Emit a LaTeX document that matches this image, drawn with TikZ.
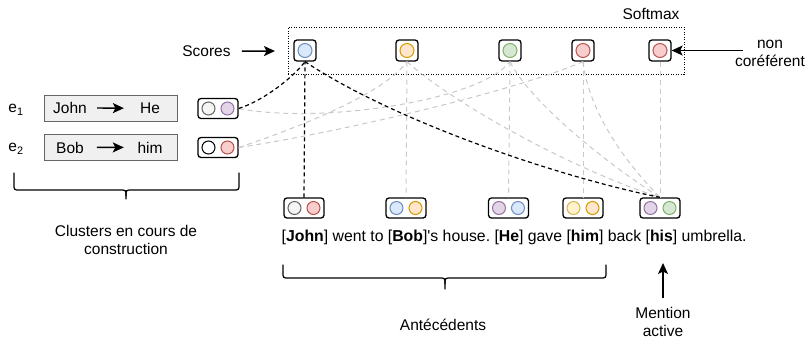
\documentclass[tikz,border=0pt]{standalone}
\usepackage{fontspec}
\setmainfont{Liberation Sans}
\frenchspacing
\usetikzlibrary{arrows.meta}
\definecolor{bluef}{HTML}{DAE8FC}\definecolor{blued}{HTML}{6C8EBF}
\definecolor{orangef}{HTML}{FFE6CC}\definecolor{oranged}{HTML}{D79B00}
\definecolor{greenf}{HTML}{D5E8D4}\definecolor{greend}{HTML}{82B366}
\definecolor{redf}{HTML}{F8CECC}\definecolor{redd}{HTML}{B85450}
\definecolor{purplef}{HTML}{E1D5E7}\definecolor{purpled}{HTML}{9673A6}
\definecolor{yellowf}{HTML}{FFF2CC}\definecolor{yellowd}{HTML}{D6B656}
\definecolor{grayf}{HTML}{F5F5F5}\definecolor{grayd}{HTML}{666666}
\definecolor{whitef}{HTML}{FFFFFF}\definecolor{whited}{HTML}{000000}
\definecolor{boxf}{HTML}{F0F0F0}
\definecolor{lightln}{HTML}{C8C8C8}
\tikzset{
  lbl/.style={font=\fontsize{15.5}{18}\selectfont, inner sep=0pt},
  sbox/.style={draw=black, line width=1.3pt, rounded corners=3pt, minimum width=22pt, minimum height=21pt, fill=white, inner sep=0pt},
  pbox/.style={draw=black, line width=1.3pt, rounded corners=3pt, minimum width=40pt, minimum height=20pt, fill=white, inner sep=0pt},
  circ/.style 2 args={circle, fill=#1, draw=#2, line width=1pt, minimum size=13pt, inner sep=0pt},
  cbox/.style={draw=grayd, fill=boxf, line width=1pt, minimum width=133pt, minimum height=26pt, inner sep=0pt},
  blk/.style={black, line width=1.2pt, dash pattern=on 4pt off 3pt},
  gry/.style={lightln, line width=1pt, dash pattern=on 5pt off 4pt},
  arr/.style={line width=1.4pt, -{Stealth[length=11pt,width=10pt,inset=2.5pt]}},
  brc/.style={line width=1.2pt, line cap=round},
  dotbox/.style={draw=black, line width=1pt, dash pattern=on 1pt off 1.5pt, minimum width=396pt, minimum height=47pt, inner sep=0pt},
}
\newcommand\mkscore[3]{%
  \node[sbox] (#1) at (#2) {};
  \node[circ={#3f}{#3d}, minimum size=14pt] (#1c) at (#1) {};}
\newcommand\mkpair[4]{%
  \node[pbox] (#1) at (#2) {};
  \node[circ={#3f}{#3d}] (#1a) at ([xshift=-9.5pt]#1.center) {};
  \node[circ={#4f}{#4d}] (#1b) at ([xshift=9.5pt]#1.center) {};}
\begin{document}
\begin{tikzpicture}[x=1pt,y=-1pt]
\useasboundingbox (0,0) rectangle (809,341);
% softmax frame
\node[dotbox] (smx) at (486,50.5) {};
\node[lbl, anchor=base] (softmax) at (651,19.5) {Softmax};
% score boxes
\mkscore{s1}{305,50.5}{blue}
\mkscore{s2}{407,50.5}{orange}
\mkscore{s3}{510,50.5}{green}
\mkscore{s4}{583,50.5}{red}
\mkscore{s5}{660,50.5}{red}
% labels
\node[lbl, anchor=base] (scores) at (206.5,56.5) {Scores};
\coordinate (sct) at (275,51);
\draw[arr] ([xshift=11pt]scores.east) -- (sct);
\node[lbl, align=center] (noncoref) at (770,53.4) {\strut non\\\strut coréférent};
\coordinate (ncs) at (743,50.5);
\draw[arr] (ncs) -- (s5.east);
% clusters
\node[lbl, anchor=base] (e1) at (16,112.5) {e\textsubscript{1}};
\node[lbl, anchor=base] (e2) at (16,151.5) {e\textsubscript{2}};
\node[cbox] (c1) at (110.5,108) {};
\node[cbox] (c2) at (110.5,147.5) {};
\node[lbl, anchor=base] (john) at (70,113.5) {John};
\node[lbl, anchor=base] (he) at (150,113.5) {He};
\node[lbl, anchor=base] (bob) at (70,153) {Bob};
\node[lbl, anchor=base] (him) at (150,153) {him};
\draw[arr, shorten <=10pt, shorten >=16pt] (john.east) -- (he.west);
\draw[arr, shorten <=13pt, shorten >=13.5pt] (bob.east) -- (him.west);
\mkpair{p1}{218,108.5}{gray}{purple}
\mkpair{p2}{218,147.5}{white}{red}
% bottom pairs
\mkpair{b1}{304,208}{gray}{red}
\mkpair{b2}{406,208}{blue}{orange}
\mkpair{b3}{508.5,208}{purple}{blue}
\mkpair{b4}{583,208}{yellow}{orange}
\mkpair{b5}{660,208}{purple}{green}
% gray connectors
\draw[gry] (s2.south) -- (b2.north);
\draw[gry] (s3.south) -- (b3.north);
\draw[gry] (s4.south) -- (b4.north);
\draw[gry] (s5.south) -- (b5.north);
\draw[gry] (s2.south) .. controls +(50,45) and +(-80,-25) .. (b5.north);
\draw[gry] (s3.south) .. controls +(20,40) and +(-55,-35) .. (b5.north);
\draw[gry] (s4.south) .. controls +(5,45) and +(-40,-40) .. (b5.north);
\draw[gry] (p1.east) .. controls +(82,16) and +(-30,39) .. (s3.south);
\draw[gry] (p2.east) .. controls +(45,-15) and +(-25,35) .. (s2.south);
\draw[gry] (p2.east) .. controls +(100,-15) and +(-70,30) .. (s4.south);
% black connectors
\draw[blk] (p1.east) .. controls +(25,-8) and +(-12,16) .. (s1.south);
\draw[blk] (b1.north) -- (s1.south);
\draw[blk] (s1.south) .. controls +(90,60) and +(-100,-20) .. (b5.north);
% sentence
\node[lbl, font=\fontsize{15.8}{18}\selectfont, anchor=base west] (sent) at (281.5,241) {[\textbf{John}] went to [\textbf{Bob}]\textquotesingle s house. [\textbf{He}] gave [\textbf{him}] back [\textbf{his}] umbrella.};
% braces
\draw[brc] (14,173) -- (14,184) .. controls (14,190) .. (20,190) -- (120,190) .. controls (126,190) .. (126,196) -- (126,199);
\draw[brc] (239,173) -- (239,184) .. controls (239,190) .. (233,190) -- (132,190) .. controls (126,190) .. (126,196);
\node[lbl, align=center] (clusters) at (126,241.9) {\strut Clusters en cours de\\\strut construction};
\draw[brc] (283,265) -- (283,272) .. controls (283,278) .. (289,278) -- (439,278) .. controls (445,278) .. (445,284) -- (445,289);
\draw[brc] (606,265) -- (606,272) .. controls (606,278) .. (600,278) -- (451,278) .. controls (445,278) .. (445,284);
\node[lbl, anchor=base] (antec) at (443,330) {Antécédents};
% mention active
\node[lbl, align=center] (mention) at (663,323.4) {\strut Mention\\\strut active};
\coordinate (ma) at (663,298);
\coordinate (mt) at (663,263);
\draw[arr] (ma) -- (mt);
\end{tikzpicture}
\end{document}
